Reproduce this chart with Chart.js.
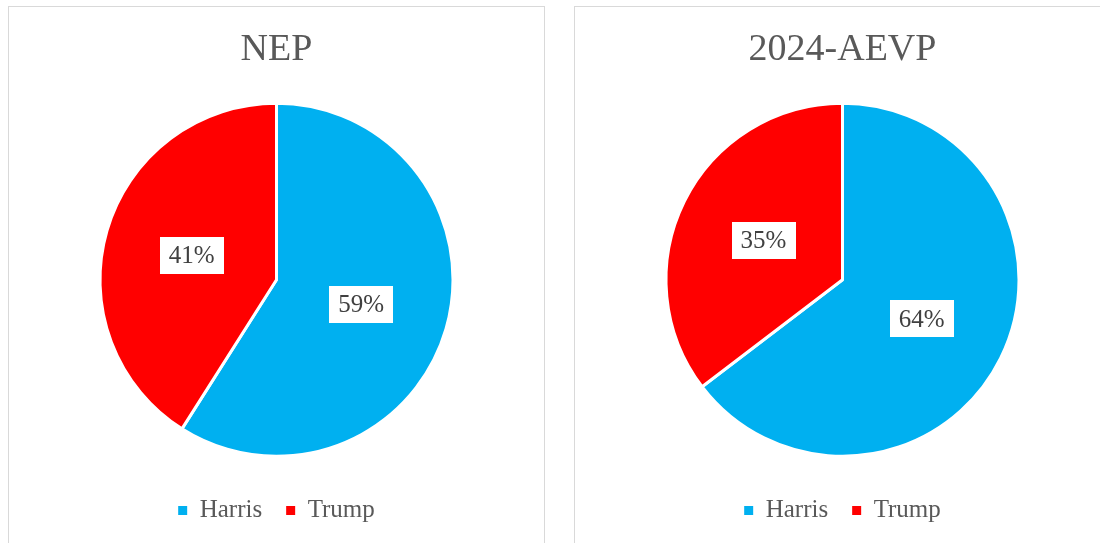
<!DOCTYPE html>
<html>
<head>
<meta charset="utf-8">
<script src="https://cdn.jsdelivr.net/npm/chart.js@4/dist/chart.umd.min.js"></script>
<style>
  html, body { margin: 0; padding: 0; background: #ffffff; }
  body { width: 1100px; height: 543px; overflow: hidden; position: relative; }
  .panel {
    position: absolute; top: 6px; width: 537px; height: 560px;
    border: 1.5px solid #d9d9d9; box-sizing: border-box; background: #ffffff;
  }
  .panel canvas { position: absolute; left: -1.5px; top: -1.5px; }
</style>
</head>
<body>
<div class="panel" style="left:8px;"><canvas id="nep" width="537" height="537"></canvas></div>
<div class="panel" style="left:574px;"><canvas id="aevp" width="537" height="537"></canvas></div>
<script>
// Vote shares by candidate for each survey
const categories = ['Harris', 'Trump'];
const nepShares = [59, 41];
const aevpShares = [64, 35];
const surveyTitles = ['NEP', '2024-AEVP'];
const candidateColors = ['#00B0F0', '#FF0000'];

const SERIF = "'Liberation Serif', 'Times New Roman', serif";

// Percentage labels in white boxes at the middle of each slice
const sliceLabels = {
  id: 'sliceLabels',
  afterDatasetsDraw(chart) {
    const { ctx } = chart;
    const meta = chart.getDatasetMeta(0);
    const values = chart.data.datasets[0].data;
    ctx.save();
    ctx.font = '25px ' + SERIF;
    ctx.textAlign = 'center';
    ctx.textBaseline = 'middle';
    meta.data.forEach((arc, i) => {
      const { x, y } = arc.tooltipPosition();
      const text = values[i] + '%';
      const w = ctx.measureText(text).width + 18;
      const h = 37;
      ctx.fillStyle = '#ffffff';
      ctx.fillRect(Math.round(x - w / 2), Math.round(y - h / 2), Math.round(w), h);
      ctx.fillStyle = '#404040';
      ctx.fillText(text, x, y + 1);
    });
    ctx.restore();
  }
};

function makePie(canvasId, title, values) {
  return new Chart(document.getElementById(canvasId), {
    type: 'pie',
    data: {
      labels: categories,
      datasets: [{
        data: values,
        backgroundColor: candidateColors,
        borderColor: '#ffffff',
        borderWidth: 3
      }]
    },
    options: {
      responsive: false,
      animation: false,
      devicePixelRatio: 1,
      layout: { padding: { left: 90.5, right: 90.5, top: 0, bottom: 10 } },
      plugins: {
        tooltip: { enabled: false },
        title: {
          display: true,
          text: title,
          color: '#595959',
          font: { family: SERIF, size: 38, weight: 'normal', lineHeight: 1.2 },
          padding: { top: 21, bottom: 13 }
        },
        legend: {
          display: true,
          position: 'bottom',
          labels: {
            boxWidth: 9,
            boxHeight: 9,
            padding: 24,
            color: '#595959',
            font: { family: SERIF, size: 25 },
            generateLabels(chart) {
              const items = Chart.overrides.doughnut.plugins.legend.labels.generateLabels(chart);
              items.forEach(it => { it.lineWidth = 0; it.strokeStyle = it.fillStyle; });
              return items;
            }
          }
        }
      }
    },
    plugins: [sliceLabels]
  });
}

makePie('nep', surveyTitles[0], nepShares);
makePie('aevp', surveyTitles[1], aevpShares);
</script>
</body>
</html>
